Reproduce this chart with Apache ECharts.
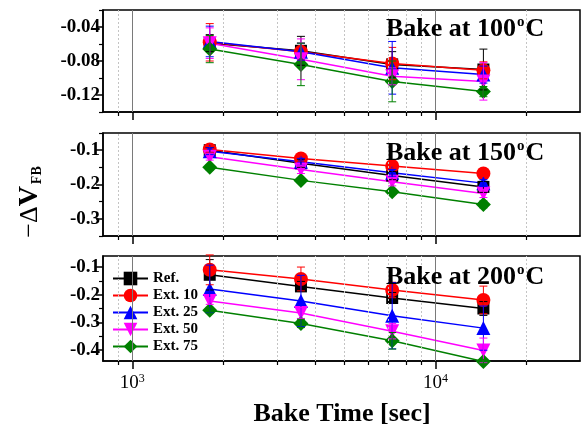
<!DOCTYPE html>
<html>
<head>
<meta charset="utf-8">
<script src="https://cdn.jsdelivr.net/npm/echarts@6.0.0/dist/echarts.min.js"></script>
<style>
  html, body { margin: 0; padding: 0; background: #fff; }
  #main { width: 582px; height: 430px; }
</style>
</head>
<body>
<div id="main"></div>
<script>
// bake times (sec)
const times = [1800, 3600, 7200, 14400];
const names = ['Ref.', 'Ext. 10', 'Ext. 25', 'Ext. 50', 'Ext. 75'];
const bakeTemps = ['100', '150', '200'];

// Bake at 100C
const ref100 = [-0.059, -0.068, -0.084, -0.090];
const ext10_100 = [-0.058, -0.069, -0.083, -0.091];
const ext25_100 = [-0.057, -0.069, -0.088, -0.096];
const ext50_100 = [-0.059, -0.078, -0.098, -0.104];
const ext75_100 = [-0.066, -0.084, -0.104, -0.116];
const refErr100 = [0.010, 0.017, 0.015, 0.024];
const ext10Err100 = [0.022, 0.010, 0.019, 0.010];
const ext25Err100 = [0.018, 0.010, 0.031, 0.010];
const ext50Err100 = [0.018, 0.024, 0.010, 0.022];
const ext75Err100 = [0.016, 0.025, 0.024, 0.006];

// Bake at 150C
const ref150 = [-0.100, -0.138, -0.174, -0.207];
const ext10_150 = [-0.098, -0.124, -0.146, -0.168];
const ext25_150 = [-0.103, -0.134, -0.166, -0.196];
const ext50_150 = [-0.119, -0.156, -0.192, -0.226];
const ext75_150 = [-0.150, -0.188, -0.221, -0.258];
const refErr150 = [0.008, 0.012, 0.012, 0.016];
const ext10Err150 = [0.008, 0.008, 0.008, 0.008];
const ext25Err150 = [0.010, 0.010, 0.010, 0.010];
const ext50Err150 = [0.010, 0.012, 0.012, 0.012];
const ext75Err150 = [0.008, 0.008, 0.008, 0.010];

// Bake at 200C
const ref200 = [-0.128, -0.170, -0.212, -0.250];
const ext10_200 = [-0.110, -0.143, -0.183, -0.219];
const ext25_200 = [-0.179, -0.223, -0.276, -0.321];
const ext50_200 = [-0.223, -0.266, -0.332, -0.402];
const ext75_200 = [-0.256, -0.304, -0.367, -0.442];
const refErr200 = [0.055, 0.018, 0.020, 0.025];
const ext10Err200 = [0.054, 0.043, 0.028, 0.050];
const ext25Err200 = [0.086, 0.093, 0.120, 0.080];
const ext50Err200 = [0.012, 0.020, 0.028, 0.045];
const ext75Err200 = [0.010, 0.015, 0.030, 0.008];

// axes
const xMin = 800, xMax = 30000;
const xMajor = [1000, 10000];
const xMinor = [900, 2000, 3000, 4000, 5000, 6000, 7000, 8000, 9000, 20000];
const yMins = [-0.14, -0.35, -0.44];
const yMaxs = [-0.02, -0.05, -0.06];
const yLabels100 = [-0.12, -0.08, -0.04];
const yLabels150 = [-0.3, -0.2, -0.1];
const yLabels200 = [-0.4, -0.3, -0.2, -0.1];
const yMinor100 = [-0.14, -0.10, -0.06, -0.02];
const yMinor150 = [-0.35, -0.25, -0.15, -0.05];
const yMinor200 = [-0.35, -0.25, -0.15];

const values = [
  [ref100, ext10_100, ext25_100, ext50_100, ext75_100],
  [ref150, ext10_150, ext25_150, ext50_150, ext75_150],
  [ref200, ext10_200, ext25_200, ext50_200, ext75_200]
];
const errors = [
  [refErr100, ext10Err100, ext25Err100, ext50Err100, ext75Err100],
  [refErr150, ext10Err150, ext25Err150, ext50Err150, ext75Err150],
  [refErr200, ext10Err200, ext25Err200, ext50Err200, ext75Err200]
];
const yLabels = [yLabels100, yLabels150, yLabels200];
const yMinor = [yMinor100, yMinor150, yMinor200];

// styles
const serif = "'Liberation Serif', 'Times New Roman', serif";
const colors = ['#000000', '#ff0000', '#0000ff', '#ff00ff', '#008000'];
const symbols = ['rect', 'circle', 'triangle', 'triangle', 'diamond'];
const symbolSizes = [12, 14, 14, 14, 15];
const symbolRotates = [0, 0, 0, 180, 0];
const grids = [
  { left: 103, right: 2, top: 10, height: 102 },
  { left: 103, right: 2, top: 133, height: 103 },
  { left: 103, right: 2, top: 256, height: 105 }
];

const xAxes = [];
const yAxes = [];
const series = [];

grids.forEach((g, i) => {
  const last = i === grids.length - 1;
  // main axes: major ticks + labels
  xAxes.push({
    type: 'log', logBase: 10, gridIndex: i, min: xMin, max: xMax, position: 'bottom',
    axisLine: { show: true, onZero: false, lineStyle: { color: '#000', width: 1.5 } },
    axisTick: { show: true, customValues: xMajor, length: 8, lineStyle: { color: '#000', width: 1.5 } },
    axisLabel: {
      show: last, customValues: xMajor, margin: 12,
      formatter: v => '{b|10}{s|' + Math.round(Math.log10(v)) + '}',
      rich: {
        b: { fontFamily: serif, fontSize: 19, color: '#000' },
        s: { fontFamily: serif, fontSize: 12, color: '#000', verticalAlign: 'bottom', padding: [0, 0, 9, 0] }
      }
    },
    splitLine: { show: false }
  });
  yAxes.push({
    type: 'value', gridIndex: i, min: yMins[i], max: yMaxs[i], position: 'left',
    axisLine: { show: true, onZero: false, lineStyle: { color: '#000', width: 1.5 } },
    axisTick: { show: true, customValues: yLabels[i], length: 7, lineStyle: { color: '#000', width: 1.5 } },
    axisLabel: {
      customValues: yLabels[i], margin: 3,
      formatter: v => v.toFixed(i === 0 ? 2 : 1),
      fontFamily: serif, fontWeight: 'bold', fontSize: 19, color: '#000'
    },
    splitLine: { show: false }
  });
});

// minor tick axes
grids.forEach((g, i) => {
  xAxes.push({
    type: 'log', logBase: 10, gridIndex: i, min: xMin, max: xMax, position: 'bottom',
    axisLine: { show: false, onZero: false },
    axisTick: { show: true, customValues: xMinor, length: 4, lineStyle: { color: '#000', width: 1.2 } },
    axisLabel: { show: false },
    splitLine: { show: false }
  });
  yAxes.push({
    type: 'value', gridIndex: i, min: yMins[i], max: yMaxs[i], position: 'left',
    axisLine: { show: false, onZero: false },
    axisTick: { show: true, customValues: yMinor[i], length: 4, lineStyle: { color: '#000', width: 1.2 } },
    axisLabel: { show: false },
    splitLine: { show: false }
  });
});

const gridLines = xMinor.map(v => ({ xAxis: v, lineStyle: { color: '#c4c4c4', width: 1, type: [2, 2] } }))
  .concat(xMajor.map(v => ({ xAxis: v, lineStyle: { color: '#7a7a7a', width: 1, type: 'solid' } })));

values.forEach((group, i) => {
  // vertical grid lines behind the data
  series.push({
    type: 'line', name: 'grid' + i, xAxisIndex: i, yAxisIndex: i, data: [], z: 1,
    markLine: { silent: true, symbol: 'none', label: { show: false }, animation: false, data: gridLines }
  });
  group.forEach((vals, s) => {
    series.push({
      type: 'line', name: names[s], xAxisIndex: i, yAxisIndex: i,
      data: times.map((t, k) => [t, vals[k]]),
      symbol: symbols[s], symbolSize: symbolSizes[s], symbolRotate: symbolRotates[s],
      itemStyle: { color: colors[s] },
      lineStyle: { color: colors[s], width: 1.5 },
      clip: false, z: 2, animation: false
    });
  });
  group.forEach((vals, s) => {
    const errs = errors[i][s];
    const color = colors[s];
    series.push({
      type: 'custom', name: names[s] + ' err', xAxisIndex: i, yAxisIndex: i,
      data: times.map((t, k) => [t, vals[k] - errs[k], vals[k] + errs[k]]),
      encode: { x: 0, y: [1, 2] },
      clip: false, z: 3, animation: false, silent: true,
      renderItem: (params, api) => {
        const lo = api.coord([api.value(0), api.value(1)]);
        const hi = api.coord([api.value(0), api.value(2)]);
        const w = 4;
        const style = { stroke: color, lineWidth: 1, fill: null };
        return {
          type: 'group',
          children: [
            { type: 'line', shape: { x1: lo[0], y1: lo[1], x2: hi[0], y2: hi[1] }, style },
            { type: 'line', shape: { x1: lo[0] - w, y1: lo[1], x2: lo[0] + w, y2: lo[1] }, style },
            { type: 'line', shape: { x1: hi[0] - w, y1: hi[1], x2: hi[0] + w, y2: hi[1] }, style }
          ]
        };
      }
    });
  });
});

// panel captions
const captionTops = [29, 153, 277];
const graphics = bakeTemps.map((temp, i) => ({
  type: 'text', x: 386, y: captionTops[i], z: 100,
  style: {
    text: '{a|Bake at ' + temp + '}{s|o}{a|C}',
    verticalAlign: 'middle',
    rich: {
      a: { fontFamily: serif, fontWeight: 'bold', fontSize: 26, fill: '#000' },
      s: { fontFamily: serif, fontWeight: 'bold', fontSize: 15, fill: '#000', verticalAlign: 'bottom', padding: [0, 1, 13, 1] }
    }
  }
}));
graphics.push({
  type: 'text', x: 30, y: 202, rotation: Math.PI / 2, z: 100,
  style: {
    text: '{m|\u2212\u0394}{v|V}{f|FB}',
    align: 'center', verticalAlign: 'middle',
    rich: {
      m: { fontFamily: serif, fontSize: 26, fill: '#000' },
      v: { fontFamily: serif, fontWeight: 'bold', fontSize: 28, fill: '#000' },
      f: { fontFamily: serif, fontWeight: 'bold', fontSize: 14, fill: '#000', verticalAlign: 'bottom', padding: [8, 0, 0, 2] }
    }
  }
});
graphics.push({
  type: 'text', x: 342, y: 414, z: 100,
  style: {
    text: 'Bake Time [sec]', align: 'center', verticalAlign: 'middle',
    fontFamily: serif, fontWeight: 'bold', fontSize: 26, fill: '#000'
  }
});

const option = {
  backgroundColor: '#fff',
  animation: false,
  grid: grids.map(g => Object.assign({ show: true, borderColor: '#000', borderWidth: 1.5, backgroundColor: 'transparent' }, g)),
  xAxis: xAxes,
  yAxis: yAxes,
  legend: {
    data: names, orient: 'vertical', left: 112, top: 271,
    itemWidth: 35, itemHeight: 17, itemGap: 2, padding: 0,
    textStyle: { fontFamily: serif, fontWeight: 'bold', fontSize: 15, color: '#000' }
  },
  graphic: graphics,
  series
};

const myChart = echarts.init(document.getElementById('main'));
myChart.setOption(option);
</script>
</body>
</html>
